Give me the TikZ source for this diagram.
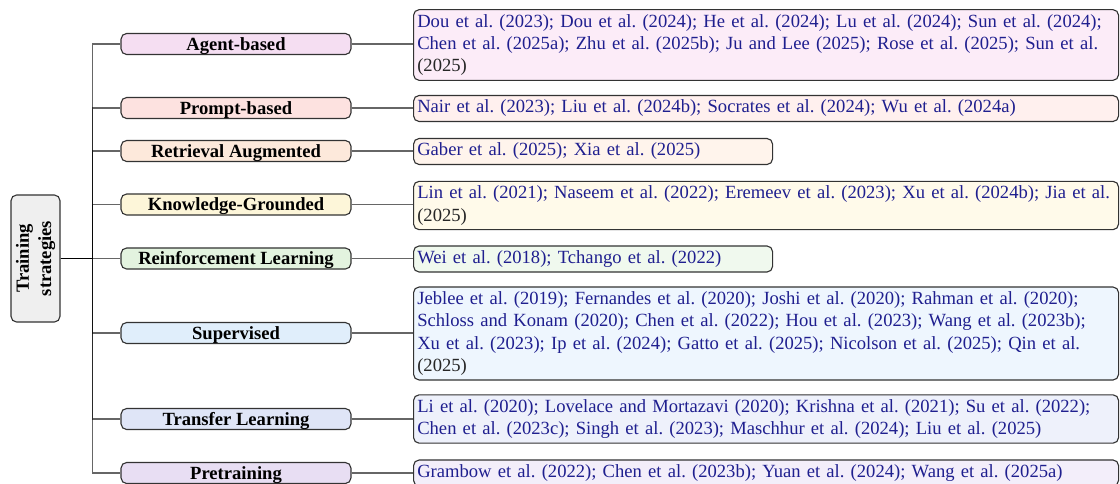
\documentclass[tikz,border=0pt]{standalone}
\usepackage{fontspec}
\usepackage{graphicx}
\setmainfont{Liberation Serif}
\frenchspacing
\definecolor{citec}{HTML}{1F1F8F}
\definecolor{rootf}{HTML}{EFEFEF}
\definecolor{c1f}{HTML}{F5DEF2}\definecolor{l1f}{HTML}{FCECF8}
\definecolor{c2f}{HTML}{FDE2E0}\definecolor{l2f}{HTML}{FFF0EE}
\definecolor{c3f}{HTML}{FDE9DB}\definecolor{l3f}{HTML}{FFF4EC}
\definecolor{c4f}{HTML}{FDF6D9}\definecolor{l4f}{HTML}{FFFAEA}
\definecolor{c5f}{HTML}{E3F3DF}\definecolor{l5f}{HTML}{F0F9EE}
\definecolor{c6f}{HTML}{E0EEFB}\definecolor{l6f}{HTML}{EEF6FE}
\definecolor{c7f}{HTML}{DFE5F7}\definecolor{l7f}{HTML}{EEF1FB}
\definecolor{c8f}{HTML}{E8DEF3}\definecolor{l8f}{HTML}{F3EEFA}
\newcommand{\yr}[1]{{\color{black!85}#1}}
\begin{document}
\begin{tikzpicture}[x=0.5376pt,y=-0.5376pt,
  box/.style={draw=black!80, line width=0.6pt, rounded corners=3pt},
  rootbox/.style={box, fill=rootf, minimum width=26.3pt, minimum height=68.3pt, inner sep=0pt, font=\bfseries\frenchspacing},
  catbox/.style={box, minimum width=123.6pt, minimum height=11.3pt, inner sep=0pt, text height=6.8pt, text depth=0.2pt, font=\bfseries\frenchspacing},
  leafbox/.style={box, anchor=west, align=left, inner xsep=2pt, inner ysep=1pt, text=citec, text width=375pt, font=\frenchspacing},
  narrow/.style={text width=189pt},
  edge/.style={draw=black, draw opacity=0.6, line width=0.6pt}]
\useasboundingbox (0,0) rectangle (1120,483);

\node[rootbox] (root) at (35.5,258.5) {\rotatebox{90}{\begin{tabular}{@{}c@{}}Training\\strategies\end{tabular}}};

\node[catbox, fill=c1f] (c1) at (236,44) {Agent-based};
\node[catbox, fill=c2f] (c2) at (236,108) {Prompt-based};
\node[catbox, fill=c3f] (c3) at (236,151) {Retrieval Augmented};
\node[catbox, fill=c4f] (c4) at (236,204.5) {Knowledge-Grounded};
\node[catbox, fill=c5f] (c5) at (236,258.5) {Reinforcement Learning};
\node[catbox, fill=c6f] (c6) at (236,333) {Supervised};
\node[catbox, fill=c7f] (c7) at (236,419) {Transfer Learning};
\node[catbox, fill=c8f] (c8) at (236,473) {Pretraining};

\node[leafbox, fill=l1f] (l1) at (413,45) {\strut Dou et al. (2023); Dou et al. (2024); He et al. (2024); Lu et al. (2024); Sun et al. (2024);\\ Chen et al. (2025a); Zhu et al. (2025b); Ju and Lee (2025); Rose et al. (2025); Sun et al.\\ \yr{(2025)}\strut};
\node[leafbox, fill=l2f] (l2) at (413,108.5) {\strut Nair et al. (2023); Liu et al. (2024b); Socrates et al. (2024); Wu et al. (2024a)\strut};
\node[leafbox, narrow, fill=l3f] (l3) at (413,151.5) {\strut Gaber et al. (2025); Xia et al. (2025)\strut};
\node[leafbox, fill=l4f] (l4) at (413,205.5) {\strut Lin et al. (2021); Naseem et al. (2022); Eremeev et al. (2023); Xu et al. (2024b); Jia et al.\\ \yr{(2025)}\strut};
\node[leafbox, narrow, fill=l5f] (l5) at (413,259) {\strut Wei et al. (2018); Tchango et al. (2022)\strut};
\node[leafbox, fill=l6f] (l6) at (413,333.5) {\strut Jeblee et al. (2019); Fernandes et al. (2020); Joshi et al. (2020); Rahman et al. (2020);\\ Schloss and Konam (2020); Chen et al. (2022); Hou et al. (2023); Wang et al. (2023b);\\ Xu et al. (2023); Ip et al. (2024); Gatto et al. (2025); Nicolson et al. (2025); Qin et al.\\ \yr{(2025)}\strut};
\node[leafbox, fill=l7f] (l7) at (413,419) {\strut Li et al. (2020); Lovelace and Mortazavi (2020); Krishna et al. (2021); Su et al. (2022);\\ Chen et al. (2023c); Singh et al. (2023); Maschhur et al. (2024); Liu et al. (2025)\strut};
\node[leafbox, fill=l8f] (l8) at (413,473) {\strut Grambow et al. (2022); Chen et al. (2023b); Yuan et al. (2024); Wang et al. (2025a)\strut};

\foreach \c in {c1,c2,c3,c4,c5,c6,c7,c8}
  \draw[edge] (root.east) -- ++(32,0) |- (\c.west);
\foreach \i in {1,...,8}
  \draw[edge] (c\i.east) -- (c\i.east -| l\i.west);
\end{tikzpicture}
\end{document}
